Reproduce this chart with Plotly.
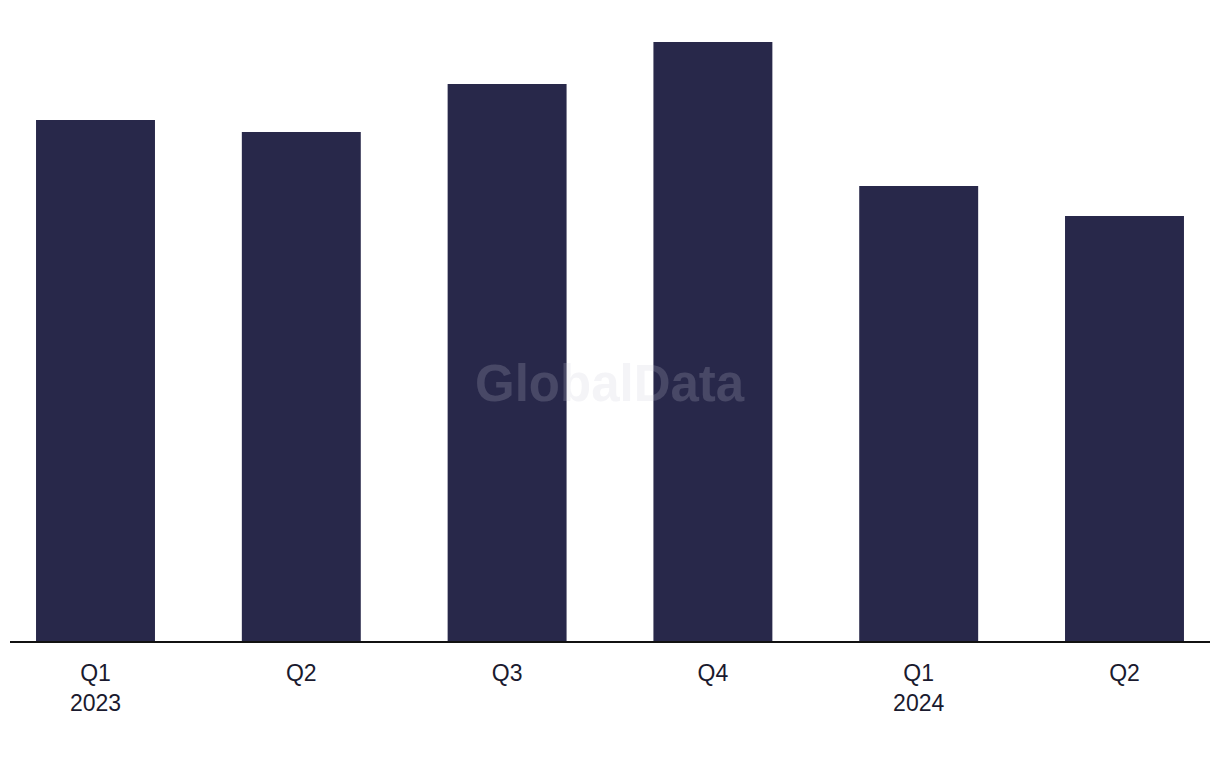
import plotly.graph_objects as go

quarters = ["Q1<br>2023", "Q2", "Q3", "Q4", "Q1<br>2024", "Q2"]
categories = ["Q1 2023", "Q2 2023", "Q3 2023", "Q4 2023", "Q1 2024", "Q2 2024"]
values = [521, 509, 557, 599, 455, 425]

fig = go.Figure()
fig.add_trace(go.Bar(
    x=list(range(len(categories))),
    y=values,
    width=0.578,
    marker=dict(color="#28284a", line=dict(width=0)),
    hovertext=categories,
    hoverinfo="text+y",
))

fig.update_layout(
    width=1220, height=768,
    margin=dict(l=10, r=10, t=0, b=127),
    paper_bgcolor="white", plot_bgcolor="white",
    showlegend=False,
    font=dict(family="Liberation Sans, Arial, sans-serif", color="#1a1a2e", size=23),
    xaxis=dict(
        range=[-0.4155, 5.4155],
        tickmode="array",
        tickvals=list(range(len(categories))),
        ticktext=quarters,
        showline=True, linecolor="#111111", linewidth=2,
        showgrid=False, zeroline=False, ticks="",
        ticklabelstandoff=10,
        tickfont=dict(size=23, color="#1a1a2e"),
    ),
    yaxis=dict(range=[0, 641], visible=False, showgrid=False, zeroline=False),
    annotations=[dict(
        text="<b>GlobalData</b>", x=0.5, y=641 - 383, xref="paper", yref="y",
        showarrow=False, font=dict(size=51, color="rgba(200,200,215,0.2)",
                                    family="Liberation Sans, Arial, sans-serif"),
    )],
)

fig.write_html("out.html", config={"displayModeBar": False},
               post_script="document.body.style.margin='0';document.body.style.padding='0';")
